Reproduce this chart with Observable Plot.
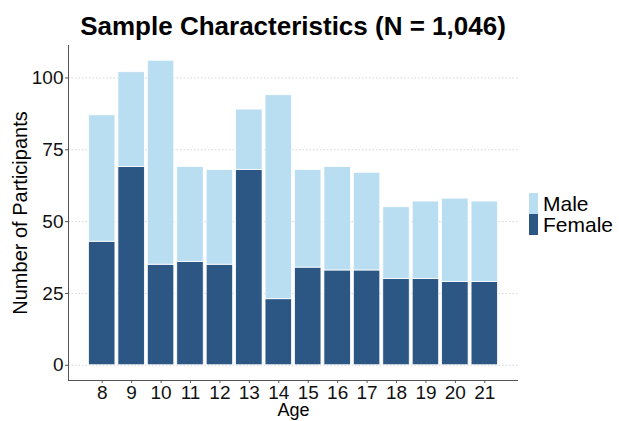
<!DOCTYPE html>
<html>
<head>
<meta charset="utf-8">
<script src="https://cdn.jsdelivr.net/npm/d3@7"></script>
<script src="https://cdn.jsdelivr.net/npm/@observablehq/plot@0.6"></script>
<style>
  html, body { margin: 0; padding: 0; background: #fff; }
  #wrap { position: relative; width: 619px; height: 421px; font-family: "Liberation Sans", Arial, Helvetica, sans-serif; }
  #title { position: absolute; left: 68px; width: 450px; top: 11px; text-align: center; font-weight: bold; font-size: 26px; color: #000; white-space: nowrap; }
  #legend { position: absolute; left: 529px; top: 193px; }
  .item { display: flex; align-items: center; height: 21px; }
  .key { width: 9px; height: 21px; margin-right: 5px; }
  .lab { font-size: 21px; color: #000; line-height: 21px; }
  svg text { font-family: "Liberation Sans", Arial, Helvetica, sans-serif; }
</style>
</head>
<body>
<div id="wrap">
  <div id="chart"></div>
  <div id="title">Sample Characteristics (N = 1,046)</div>
  <div id="legend"></div>
</div>
<script>
const ages = [8, 9, 10, 11, 12, 13, 14, 15, 16, 17, 18, 19, 20, 21];
const female = [43, 69, 35, 36, 35, 68, 23, 34, 33, 33, 30, 30, 29, 29];
const male = [44, 33, 71, 33, 33, 21, 71, 34, 36, 34, 25, 27, 29, 28];
const sexes = ["Male", "Female"];
const colors = ["#B9DEF1", "#2C5784"];
const yTicks = [0, 25, 50, 75, 100];

const rows = [];
ages.forEach((a, i) => {
  rows.push({age: a, sex: "Female", count: female[i]});
  rows.push({age: a, sex: "Male", count: male[i]});
});

const maxTotal = d3.max(ages.map((a, i) => female[i] + male[i]));
const yPad = maxTotal * 0.05;
const xMin = d3.min(ages) - 0.45, xMax = d3.max(ages) + 0.45;
const xPad = (xMax - xMin) * 0.05;

const chart = Plot.plot({
  width: 619,
  height: 421,
  marginTop: 45,
  marginBottom: 41,
  marginLeft: 68,
  marginRight: 101,
  style: {fontFamily: "Liberation Sans, Arial, sans-serif", background: "white"},
  x: {type: "linear", domain: [xMin - xPad, xMax + xPad]},
  y: {domain: [-yPad, maxTotal + yPad]},
  color: {domain: sexes, range: colors},
  marks: [
    Plot.gridY(yTicks, {stroke: "#d4d4d4", strokeOpacity: 1, strokeDasharray: "1.5,2"}),
    Plot.rectY(rows, {
      x1: d => d.age - 0.45,
      x2: d => d.age + 0.45,
      y: "count",
      fill: "sex",
      order: ["Female", "Male"],
      stroke: "white",
      strokeWidth: 0.8
    }),
    Plot.ruleX([xMin - xPad], {stroke: "#555", strokeWidth: 1}),
    Plot.ruleY([-yPad], {stroke: "#555", strokeWidth: 1}),
    Plot.axisY(yTicks, {tickSize: 3, tickPadding: 2, fontSize: 19, stroke: "#555", fill: "#111", label: null}),
    Plot.axisX(ages, {tickSize: 3, tickPadding: 2, fontSize: 19, stroke: "#555", fill: "#111", tickFormat: d => String(d), label: null}),
    Plot.text(["Age"], {frameAnchor: "bottom", dy: 30, lineAnchor: "middle", fontSize: 18, fill: "#000"}),
    Plot.text(["Number of Participants"], {frameAnchor: "left", dx: -48, rotate: -90, textAnchor: "middle", fontSize: 20, fill: "#000"})
  ]
});
document.getElementById("chart").appendChild(chart);

const leg = document.getElementById("legend");
sexes.forEach((s, i) => {
  const it = document.createElement("div");
  it.className = "item";
  it.innerHTML = `<span class="key" style="background:${colors[i]}"></span><span class="lab">${s}</span>`;
  leg.appendChild(it);
});
</script>
</body>
</html>
